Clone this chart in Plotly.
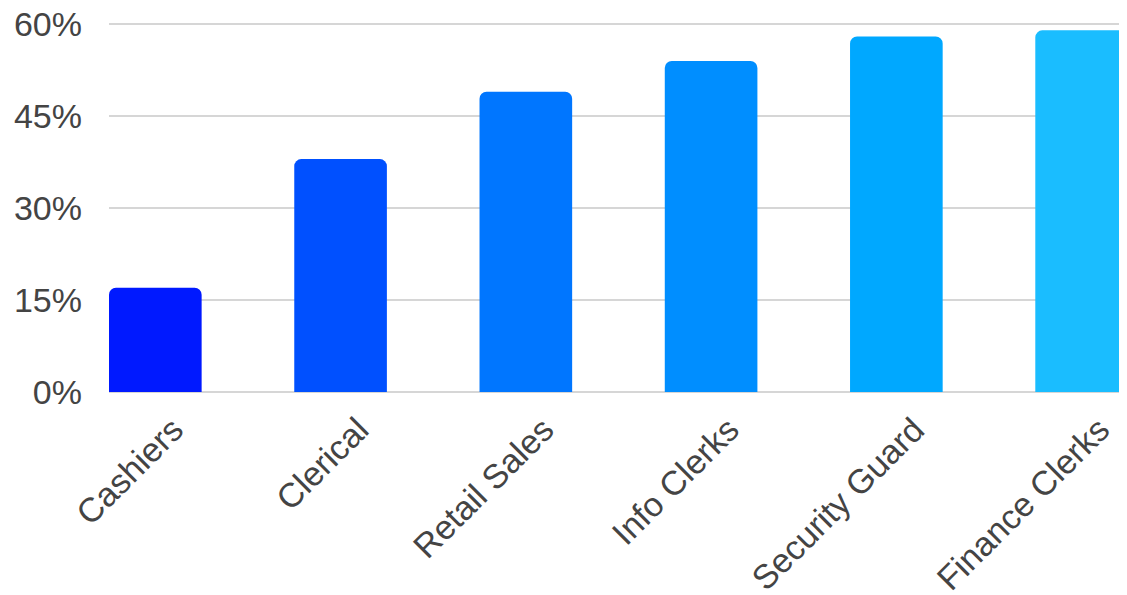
import plotly.graph_objects as go

categories = ["Cashiers", "Clerical", "Retail Sales", "Info Clerks", "Security Guard", "Finance Clerks"]
values = [17, 38, 49, 54, 58, 59]
colors = ["#0019FF", "#0050FF", "#0076FF", "#008EFF", "#00A8FF", "#1ABDFF"]
y_ticks = [0, 15, 30, 45, 60]
y_tick_labels = ["0%", "15%", "30%", "45%", "60%"]

fig = go.Figure(go.Bar(
    x=categories, y=values,
    marker=dict(color=colors, line=dict(width=0), cornerradius=7),
    width=0.5,
))

fig.update_layout(
    width=1127, height=595,
    margin=dict(l=101, r=8, t=15, b=211, autoexpand=False),
    paper_bgcolor="white", plot_bgcolor="white",
    font=dict(family="Liberation Sans, Arial, sans-serif", size=34, color="#444444"),
    showlegend=False,
    bargap=0.5,
)
fig.update_xaxes(
    range=[-0.25, 5.245], tickangle=-45, showgrid=False, showline=False,
    ticks="", tickfont=dict(size=34, color="#444444"),
    ticklabelstandoff=10, ticklabelshift=18, automargin=False,
    ticklabeloverflow="allow",
)
fig.update_yaxes(
    range=[0, 60.2], tickvals=y_ticks, ticktext=y_tick_labels,
    showgrid=True, gridcolor="#d6d6d6", gridwidth=2,
    zeroline=True, zerolinecolor="#d6d6d6", zerolinewidth=2,
    showline=False, ticks="", ticklabelstandoff=26,
    tickfont=dict(size=34, color="#444444"), automargin=False,
    ticklabeloverflow="allow",
)

fig.write_html("out.html")
